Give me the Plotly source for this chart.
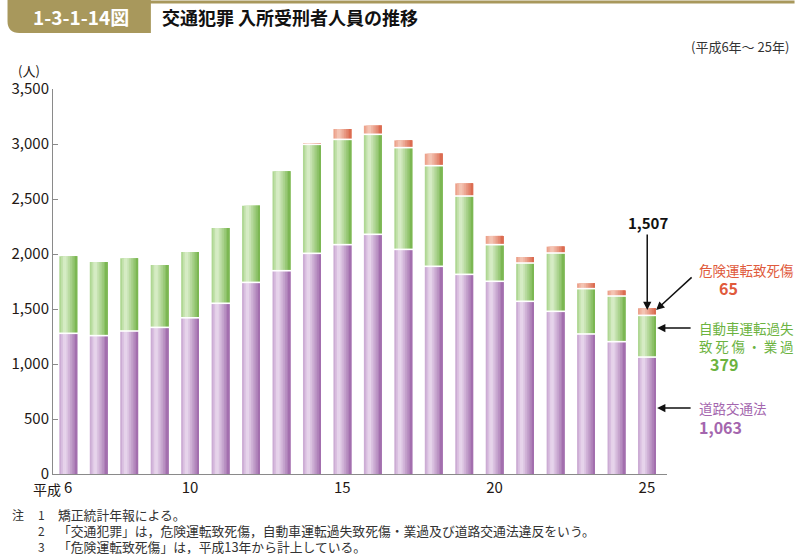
import plotly.graph_objects as go

# ---------------- data ----------------
years = ["6", "7", "8", "9", "10", "11", "12", "13", "14", "15",
         "16", "17", "18", "19", "20", "21", "22", "23", "24", "25"]
road_traffic = [1279, 1258, 1300, 1333, 1420, 1552, 1742, 1848, 2006, 2085,
                2179, 2042, 1888, 1815, 1752, 1570, 1479, 1273, 1203, 1063]
negligence = [701, 669, 661, 567, 598, 684, 697, 904, 991, 957,
              909, 925, 915, 712, 333, 348, 530, 412, 415, 379]
dangerous = [0, 0, 0, 0, 0, 0, 0, 0, 10, 94,
             79, 66, 109, 115, 79, 55, 58, 48, 49, 65]
tick_index = [0, 4, 9, 14, 19]
tick_text = ["6", "10", "15", "20", "25"]
y_ticks = [0, 500, 1000, 1500, 2000, 2500, 3000, 3500]

# ---------------- geometry helpers ----------------
W, H = 796, 554
L, R, T, B = 46, 667, 89, 474
FONT = "Noto Sans CJK JP"


def px(xp):
    return (xp - L) / (R - L)


def py(yp):
    return (B - yp) / (B - T)


x = list(range(len(years)))
bar_w = 0.585
n_strip = 10


def hex2rgb(h):
    h = h.lstrip("#")
    return tuple(int(h[i:i + 2], 16) for i in (0, 2, 4))


def mix(c1, c2, f):
    a, b = hex2rgb(c1), hex2rgb(c2)
    return "rgb(%d,%d,%d)" % tuple(round(a[i] + (b[i] - a[i]) * f) for i in range(3))


def grad(t, mid, light, dark):
    if t < 0.3:
        return mix(mid, light, t / 0.3)
    return mix(light, dark, (t - 0.3) / 0.7)


series = [
    (road_traffic, [0] * len(x), ("#c6a2cf", "#ecdcf0", "#9d67a9")),
    (negligence, road_traffic, ("#a6d287", "#def0cf", "#74b349")),
    (dangerous, [a + b for a, b in zip(road_traffic, negligence)], ("#ea9a82", "#f6cbbb", "#d9654a")),
]

fig = go.Figure()
for vals, base, (mid, light, dark) in series:
    for k in range(n_strip):
        t = (k + 0.5) / n_strip
        off = -bar_w / 2 + k * bar_w / n_strip
        fig.add_trace(go.Bar(
            x=x, y=vals, base=base,
            width=bar_w - k * bar_w / n_strip, offset=off,
            marker=dict(color=grad(t, mid, light, dark), line=dict(width=0)),
            showlegend=False, hoverinfo="skip",
        ))

# white separators between segments
sep_x, sep_y = [], []
for i in x:
    sep_x.append(i)
    sep_y.append(road_traffic[i])
    if dangerous[i] > 0:
        sep_x.append(i)
        sep_y.append(road_traffic[i] + negligence[i])
fig.add_trace(go.Scatter(
    x=sep_x, y=sep_y, mode="markers",
    marker=dict(symbol="line-ew", size=18, line=dict(color="white", width=1.6)),
    showlegend=False, hoverinfo="skip",
))

fig.update_layout(
    width=W, height=H,
    margin=dict(l=L, r=W - R, t=T, b=H - B, pad=0),
    paper_bgcolor="white", plot_bgcolor="white",
    barmode="overlay",
    font=dict(family=FONT, color="#231815", size=15),
    xaxis=dict(
        range=[-0.5, 19.66], tickmode="array", tickvals=tick_index, ticktext=tick_text,
        showgrid=False, zeroline=False, showline=True, linecolor="#8a8a8a", linewidth=1,
        ticks="", tickfont=dict(size=15, family=FONT, color="#231815"),
    ),
    yaxis=dict(
        range=[0, 3500], tickmode="array", tickvals=y_ticks,
        tickformat=",", showgrid=False, zeroline=False, showline=True,
        linecolor="#8a8a8a", linewidth=1, ticks="inside", ticklen=5, tickcolor="#8a8a8a",
        tickfont=dict(size=15, family=FONT, color="#231815"),
    ),
)

# header
fig.add_shape(type="line", xref="paper", yref="paper",
              x0=px(140), x1=px(796), y0=py(2), y1=py(2),
              line=dict(color="#a8985c", width=3))
r = 12
path = "M {a},{b} L {c},{b} L {c},{d} L {e},{d} Q {a},{d} {a},{f} Z".format(
    a=px(0), b=py(0), c=px(145), d=py(33), e=px(r), f=py(33 - r))
fig.add_shape(type="path", xref="paper", yref="paper", path=path,
              fillcolor="#a8985c", line=dict(width=0))


def ann(text, xp, yp, size, color="#231815", xanchor="left", bold=False):
    fig.add_annotation(
        text=("<b>%s</b>" % text) if bold else text,
        x=px(xp), y=py(yp), xref="paper", yref="paper",
        xanchor=xanchor, yanchor="middle", showarrow=False,
        font=dict(size=size, color=color, family=FONT),
    )


ann("1-3-1-14図", 74, 17, 19, "white", "center", True)
ann("交通犯罪 入所受刑者人員の推移", 154, 17, 18, "#111111", "left", True)
ann("(平成6年～ 25年)", 792, 46, 13, "#333333", "right")
ann("(人)", 22, 70, 13, "#231815", "center")
ann("平成", 56, 489, 14, "#231815", "right")

# right-side labels
red_c, green_c, purple_c = "#e05a3c", "#6cb33f", "#a466ae"
ts = "\u2009"
ann("1,507", 648, 222, 15, "#111111", "center", True)
ann("危険運転致死傷", 697, 270, 13.5, red_c)
ann("65", 729, 288, 16, red_c, "center", True)
ann("自動車運転過失", 697, 328, 13.5, green_c)
ann(ts.join("致死傷・業過"), 697, 346, 13.5, green_c)
ann("379", 725, 364, 16, green_c, "center", True)
ann("道路交通法", 697, 408, 13.5, purple_c)
ann("1,063", 697, 427, 16, purple_c, "left", True)


def arrow(hx, hy, tx, ty):
    fig.add_annotation(
        x=px(hx), y=py(hy), ax=tx - hx, ay=ty - hy,
        xref="paper", yref="paper", axref="pixel", ayref="pixel",
        showarrow=True, arrowhead=2, arrowsize=1.1, arrowwidth=1.5,
        arrowcolor="#111111", text="",
    )


arrow(647, 310, 647, 233)
arrow(656, 310, 693, 276)
arrow(657, 328, 692, 328)
arrow(657, 408, 692, 408)

# notes
notes = [
    ("注", "1", "矯正統計年報による。"),
    ("", "2", "「交通犯罪」は，危険運転致死傷，自動車運転過失致死傷・業過及び道路交通法違反をいう。"),
    ("", "3", "「危険運転致死傷」は，平成13年から計上している。"),
]
for j, (a, n, txt) in enumerate(notes):
    yy = [514, 530, 546][j]
    if a:
        ann(a, 3, yy, 12, "#333333")
    ann(n, 34, yy, 12, "#333333", "center")
    ann(txt, 49, yy, 12.8, "#333333")

fig.write_html(
    "out.html",
    config={"displayModeBar": False},
    post_script="document.body.style.margin='0';document.body.style.padding='0';",
)
